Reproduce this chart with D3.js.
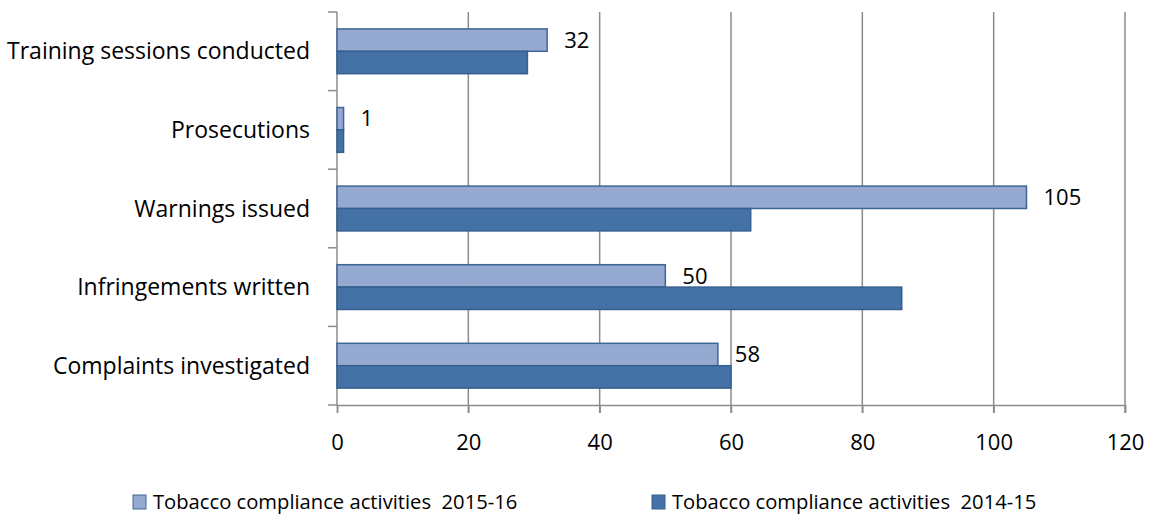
<!DOCTYPE html>
<html><head><meta charset="utf-8">
<script src="https://cdn.jsdelivr.net/npm/d3@7"></script>
<style>body{margin:0;background:#fff}svg{display:block}text{font-family:"Open Sans",sans-serif;fill:#000;white-space:pre}</style>
</head><body><svg id="c" width="1150" height="514"></svg>
<script>
const categories = ["Training sessions conducted","Prosecutions","Warnings issued","Infringements written","Complaints investigated"];
const series2015 = [32, 1, 105, 50, 58];
const series2014 = [29, 1, 63, 86, 60];
const seriesNames = ["Tobacco compliance activities  2015-16","Tobacco compliance activities  2014-15"];
const xTicks = [0,20,40,60,80,100,120];

const svg = d3.select("#c");
const L = 337, R = 1125, T = 12, B = 405;
const x = d3.scaleLinear().domain([0,120]).range([L,R]);
const y = d3.scaleBand().domain(categories).range([T,B]).paddingInner(0.43).paddingOuter(0.215);
const sub = d3.scaleBand().domain([0,1]).range([0,y.bandwidth()]);
const colors = [{fill:"#95A9D1",stroke:"#3E6796"},{fill:"#4472A6",stroke:"#355F8F"}];
const grid = "#8C8C8C";

// gridlines
svg.append("g").selectAll("line").data(xTicks.slice(1)).join("line")
  .attr("x1",d=>x(d)).attr("x2",d=>x(d)).attr("y1",T).attr("y2",B+8)
  .attr("stroke",grid).attr("stroke-width",1.5);

// x axis
const xa = svg.append("g").attr("transform",`translate(0,${B})`)
  .call(d3.axisBottom(x).tickValues(xTicks).tickSize(8).tickPadding(21));
xa.select(".domain").attr("stroke",grid).attr("stroke-width",1.5);
xa.selectAll(".tick line").attr("stroke",grid).attr("stroke-width",1.5);
xa.selectAll("text").style("font-size","22px").attr("font-family","Open Sans").attr("fill","#000");

// y axis
const yTickPos = d3.range(categories.length+1).map(i=>T+(B-T)*i/categories.length);
svg.append("line").attr("x1",L).attr("x2",L).attr("y1",T).attr("y2",B).attr("stroke",grid).attr("stroke-width",1.5);
svg.append("g").selectAll("line").data(yTickPos).join("line")
  .attr("x1",L-9).attr("x2",L).attr("y1",d=>d).attr("y2",d=>d).attr("stroke",grid).attr("stroke-width",1.5);
svg.append("g").selectAll("text").data(categories).join("text")
  .attr("x",310).attr("y",c=>y(c)+y.bandwidth()/2).attr("dy","0.35em")
  .attr("text-anchor","end").style("font-size","23px").text(c=>c);

// bars
const data = [series2015, series2014];
data.forEach((vals,si)=>{
  svg.append("g").selectAll("rect").data(categories).join("rect")
    .attr("x",x(0)).attr("y",(c)=>y(c)+sub(si))
    .attr("width",(c,i)=>x(vals[i])-x(0)).attr("height",sub.bandwidth())
    .attr("fill",colors[si].fill).attr("stroke",colors[si].stroke).attr("stroke-width",1.5);
});

// value labels (2015-16)
svg.append("g").selectAll("text").data(categories).join("text")
  .attr("x",(c,i)=>x(series2015[i])+17).attr("y",c=>y(c)+sub(0)+sub.bandwidth()/2).attr("dy","0.35em")
  .style("font-size","22px").text((c,i)=>series2015[i]);

// legend
const leg = [{x:133,tx:153},{x:652,tx:672}];
seriesNames.forEach((n,i)=>{
  svg.append("rect").attr("x",leg[i].x).attr("y",495).attr("width",13).attr("height",14)
    .attr("fill",colors[i].fill).attr("stroke",colors[i].stroke).attr("stroke-width",1);
  svg.append("text").attr("x",leg[i].tx).attr("y",502).attr("dy","0.35em").style("font-size","20.2px").text(n);
});
</script></body></html>
